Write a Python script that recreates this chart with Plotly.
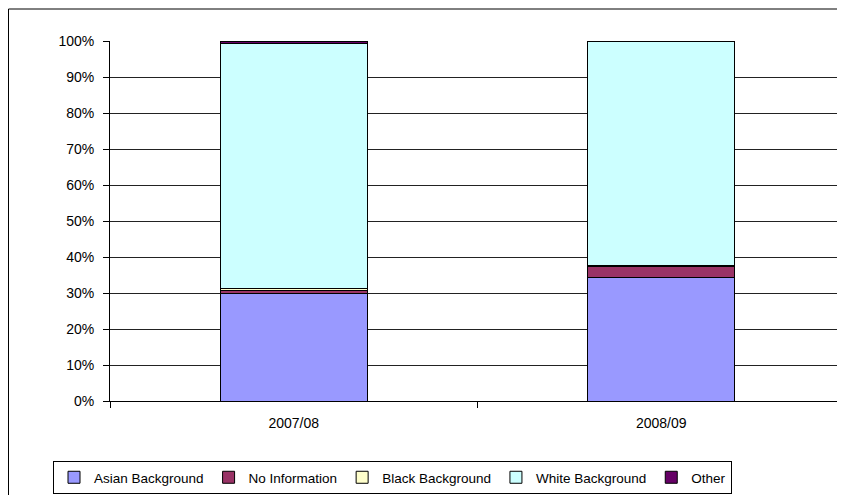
import plotly.graph_objects as go

categories = ["2007/08", "2008/09"]
asian = [30.0, 34.3]
no_info = [0.6, 3.0]
black = [0.7, 0.4]
white = [68.0, 62.3]
other = [0.7, 0.0]
y_ticks = [0, 10, 20, 30, 40, 50, 60, 70, 80, 90, 100]

series = [
    ("Asian Background", asian, "#9999FF"),
    ("No Information", no_info, "#993366"),
    ("Black Background", black, "#FFFFCC"),
    ("White Background", white, "#CCFFFF"),
    ("Other", other, "#660066"),
]

fig = go.Figure()
for name, vals, col in series:
    fig.add_trace(go.Bar(
        x=categories, y=vals, name=name,
        marker=dict(color=col, line=dict(color="#000000", width=1)),
    ))

# page has an 8px body margin; figure coordinates are page - 8
OFF = 8
W, H = 845 - OFF, 495 - OFF
L = 110 - OFF
T = 41 - OFF
B = H - (401 - OFF)
R = 0
pw = W - L - R
ph = H - T - B

def px_x(p):
    return (p - OFF - L) / pw

def px_y(p):
    return (H - B - (p - OFF)) / ph

fig.update_layout(
    width=W, height=H,
    margin=dict(l=L, r=R, t=T, b=B, pad=0),
    barmode="stack",
    bargap=0.6,
    paper_bgcolor="white",
    plot_bgcolor="white",
    font=dict(family="Liberation Sans, Arial, sans-serif", size=14, color="#000000"),
    showlegend=True,
    legend=dict(
        orientation="h",
        x=px_x(53), y=px_y(461), xanchor="left", yanchor="top",
        bordercolor="#000000", borderwidth=1,
        font=dict(size=13.5, color="#000000"),
        itemwidth=30,
        traceorder="normal",
        tracegroupgap=0,
    ),
    xaxis=dict(
        type="category",
        showline=True, linecolor="#000000", linewidth=1,
        ticks="outside", ticklen=6, tickcolor="#000000",
        tickson="boundaries",
        ticklabelstandoff=9,
        showgrid=False,
    ),
    yaxis=dict(
        range=[0, 100],
        tickvals=y_ticks,
        ticktext=[f"{v}%" for v in y_ticks],
        showline=True, linecolor="#000000", linewidth=1,
        ticks="outside", ticklen=6, tickcolor="#000000",
        ticklabelstandoff=6,
        showgrid=True, gridcolor="#222222", gridwidth=1,
        zeroline=False,
    ),
    shapes=[dict(
        type="rect", xref="paper", yref="paper",
        x0=px_x(8.5), x1=px_x(870), y0=px_y(530), y1=px_y(9),
        line=dict(color="#000000", width=1), fillcolor="rgba(0,0,0,0)",
        layer="below",
    )],
)

fig.write_html("out.html")
